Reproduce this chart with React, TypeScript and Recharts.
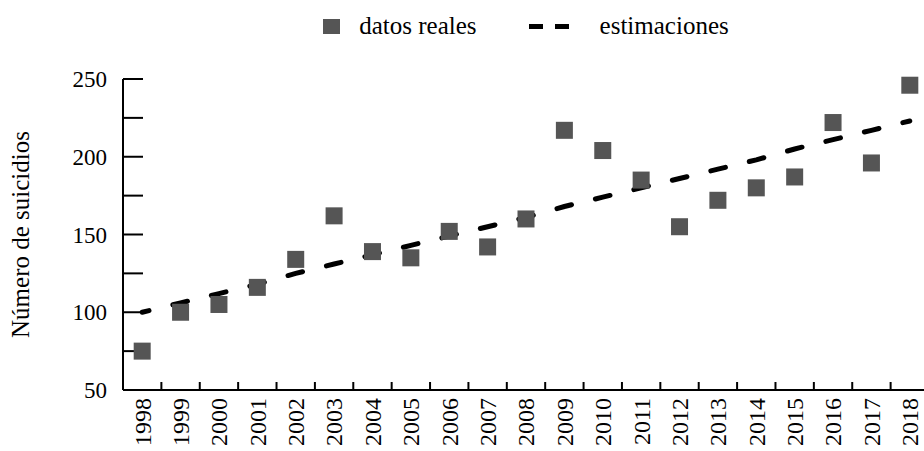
import React from "react";
import { ComposedChart, Line, Scatter, XAxis, YAxis, Legend } from "recharts";

const years = [
  1998, 1999, 2000, 2001, 2002, 2003, 2004, 2005, 2006, 2007, 2008,
  2009, 2010, 2011, 2012, 2013, 2014, 2015, 2016, 2017, 2018,
];
const realCases = [
  75, 100, 105, 116, 134, 162, 139, 135, 152, 142, 160,
  217, 204, 185, 155, 172, 180, 187, 222, 196, 246,
];
const estimated = [
  100, 106, 112, 118, 125, 131, 137, 143, 149, 155, 161,
  168, 174, 180, 186, 192, 198, 205, 211, 217, 223,
];
const yTicks = [50, 75, 100, 125, 150, 175, 200, 225, 250];
const seriesNames = ["datos reales", "estimaciones"];

const FONT = "'Liberation Serif', 'DejaVu Serif', serif";
const GRAY = "#555555";

const rows = years.map((year, i) => ({
  year,
  real: realCases[i],
  est: estimated[i],
}));

// year labels + a tick mark halfway between each pair of years
const xTicks = years.flatMap((y) => [y, y + 0.5]);

function XTick(props: any) {
  const { x, y, payload } = props;
  if (!Number.isInteger(payload.value)) {
    return <line x1={x} x2={x} y1={y} y2={y - 8} stroke="#000" strokeWidth={2} />;
  }
  const ty = y + 8;
  return (
    <text
      x={x}
      y={ty}
      dy="0.35em"
      textAnchor="end"
      transform={`rotate(-90 ${x} ${ty})`}
      fill="#000"
      fontSize={24}
      fontFamily={FONT}
    >
      {payload.value}
    </text>
  );
}

function SquareMarker(props: any) {
  const { cx, cy } = props;
  if (cx == null || cy == null) return null;
  return <rect x={cx - 8.5} y={cy - 8.5} width={17} height={17} fill={GRAY} />;
}

function LegendContent(props: any) {
  const items = [...(props.payload ?? [])].sort(
    (a, b) => seriesNames.indexOf(a.value) - seriesNames.indexOf(b.value)
  );
  return (
    <div
      style={{
        height: 52,
        display: "flex",
        alignItems: "center",
        justifyContent: "center",
        fontFamily: FONT,
        fontSize: 25,
        color: "#000",
      }}
    >
      {items.map((item, i) => (
        <div
          key={item.value}
          style={{ display: "flex", alignItems: "center", marginLeft: i ? 52 : 0 }}
        >
          {item.type === "square" ? (
            <svg width={17} height={15}>
              <rect width={17} height={15} fill={GRAY} />
            </svg>
          ) : (
            <svg width={40} height={5}>
              <rect x={0} width={14} height={5} fill="#000" />
              <rect x={26} width={14} height={5} fill="#000" />
            </svg>
          )}
          <span style={{ marginLeft: item.type === "square" ? 19 : 31 }}>{item.value}</span>
        </div>
      ))}
    </div>
  );
}

export default function App() {
  return (
    <div
      style={{
        position: "absolute",
        left: 0,
        top: 0,
        width: 924,
        height: 451,
        overflow: "hidden",
        background: "#fff",
      }}
    >
      <ComposedChart
        width={929}
        height={451}
        data={rows}
        margin={{ top: 27, right: 0, bottom: 0, left: 0 }}
      >
        <XAxis
          dataKey="year"
          type="number"
          domain={[1997.5, 2018.5]}
          ticks={xTicks}
          interval={0}
          allowDecimals
          tick={<XTick />}
          tickLine={false}
          tickSize={0}
          tickMargin={0}
          height={61}
          axisLine={{ stroke: "#000", strokeWidth: 2 }}
        />
        <YAxis
          type="number"
          domain={[50, 250]}
          ticks={yTicks}
          interval={0}
          width={123}
          tickSize={-20}
          tickMargin={36}
          tickLine={{ stroke: "#000", strokeWidth: 2 }}
          axisLine={{ stroke: "#000", strokeWidth: 2 }}
          tick={{ fill: "#000", fontSize: 23, fontFamily: FONT }}
          tickFormatter={(v: number) => (v % 50 === 0 ? String(v) : "")}
          label={{
            value: "Número de suicidios",
            angle: -90,
            position: "insideLeft",
            offset: 20,
            style: { textAnchor: "middle", fill: "#000", fontSize: 25, fontFamily: FONT },
          }}
        />
        <Legend
          verticalAlign="top"
          content={<LegendContent />}
          wrapperStyle={{ top: 0, left: 123, width: 806, margin: 0, padding: 0 }}
        />
        <Line
          type="linear"
          dataKey="est"
          name="estimaciones"
          stroke="#000"
          strokeWidth={5}
          strokeDasharray="15 24.6"
          strokeDashoffset={8}
          strokeLinecap="round"
          dot={false}
          activeDot={false}
          legendType="line"
          isAnimationActive={false}
        />
        <Scatter
          dataKey="real"
          name="datos reales"
          fill={GRAY}
          shape={<SquareMarker />}
          legendType="square"
          isAnimationActive={false}
        />
      </ComposedChart>
    </div>
  );
}
